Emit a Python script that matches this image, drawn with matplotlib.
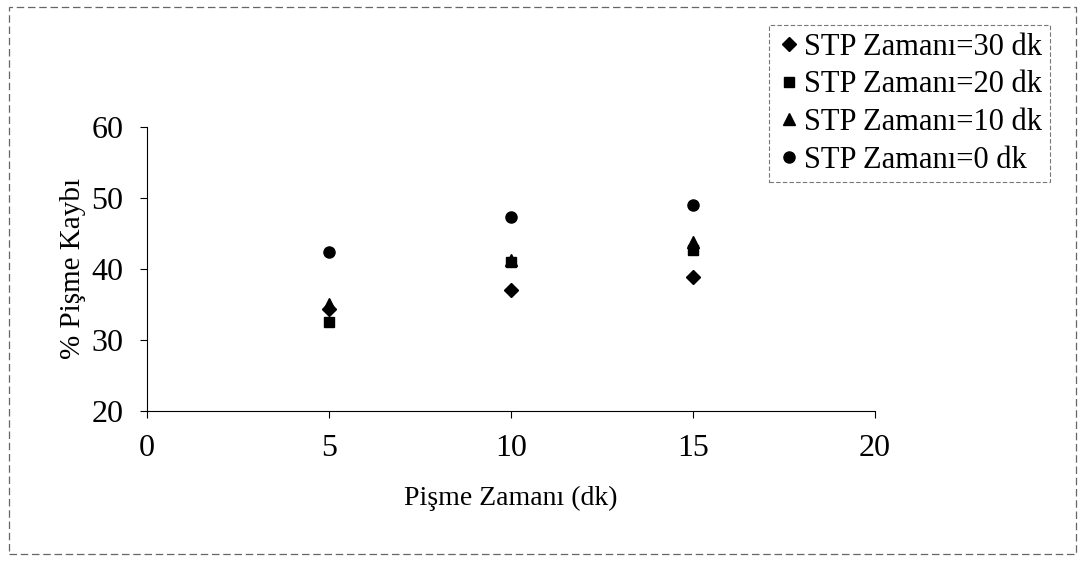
import matplotlib

matplotlib.use("Agg")
import matplotlib.pyplot as plt
from matplotlib.patches import Rectangle

plt.rcParams["font.family"] = ["Liberation Serif", "DejaVu Serif"]

# cooking time (min) vs. % cooking loss for each STP duration
cook_time = [5, 10, 15]
loss_stp30 = [34.4, 37.0, 38.9]
loss_stp20 = [32.5, 41.0, 42.7]
loss_stp10 = [35.0, 41.2, 43.8]
loss_stp0 = [42.4, 47.3, 49.0]

series = [
    ("STP Zamanı=30 dk", loss_stp30, "D", 7),
    ("STP Zamanı=20 dk", loss_stp20, "s", 7),
    ("STP Zamanı=10 dk", loss_stp10, "^", 8),
    ("STP Zamanı=0 dk", loss_stp0, "o", 8),
]

fig = plt.figure(figsize=(10.88, 5.62), dpi=100)
ax = fig.add_axes([0.135, 0.269, 0.669, 0.505])

for label, vals, marker, size in series:
    ax.plot(cook_time, vals, linestyle="none", marker=marker, markersize=size,
            color="black", label=label)

ax.set_xlim(0, 20)
ax.set_ylim(20, 60)
ax.set_xticks([0, 5, 10, 15, 20])
ax.set_yticks([20, 30, 40, 50, 60])
ax.spines["top"].set_visible(False)
ax.spines["right"].set_visible(False)
for side in ("left", "bottom"):
    ax.spines[side].set_linewidth(0.8)
ax.tick_params(axis="both", direction="out", length=5, width=0.8, labelsize=23, pad=12)
ax.set_xlabel("Pişme Zamanı (dk)", fontsize=20, labelpad=16)
ax.set_ylabel("% Pişme Kaybı", fontsize=21, labelpad=4)

leg = fig.legend(loc="upper left", bbox_to_anchor=(0.707, 0.955), fontsize=22,
                 frameon=True, fancybox=False, edgecolor="#555555",
                 handletextpad=0.1, handlelength=0.8, borderpad=0.25,
                 labelspacing=0.28, borderaxespad=0)
leg.get_frame().set_linewidth(0.8)
leg.get_frame().set_linestyle((0, (4, 2)))

fig.patches.append(Rectangle((0.008, 0.015), 0.981, 0.972, transform=fig.transFigure,
                             fill=False, edgecolor="#666666", linewidth=0.9,
                             linestyle=(0, (6, 3))))

fig.savefig("out.png", dpi=100)
